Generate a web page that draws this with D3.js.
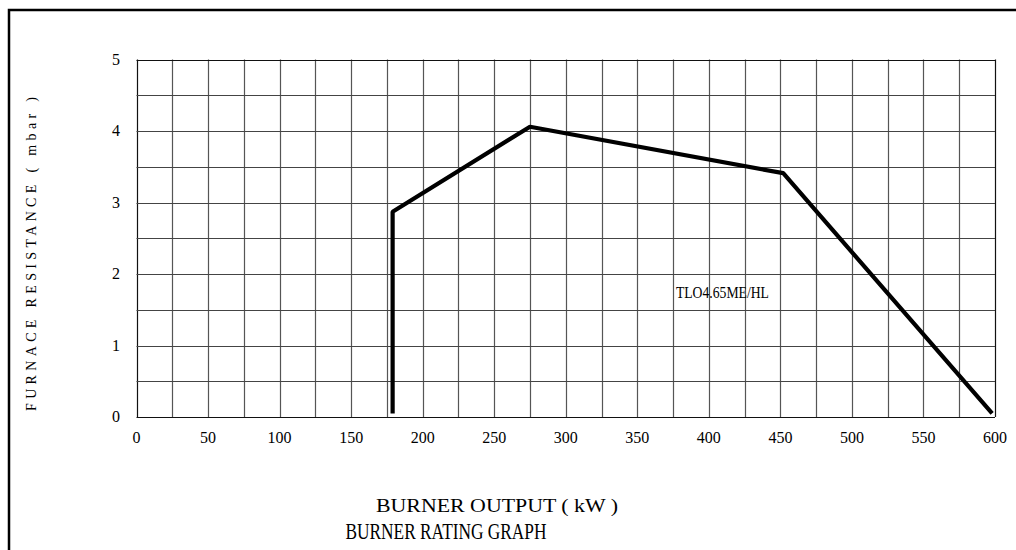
<!DOCTYPE html>
<html>
<head>
<meta charset="utf-8">
<script src="https://cdn.jsdelivr.net/npm/d3@7"></script>
<style>
	body { margin: 0; background: #fff; }
	svg { display: block; font-family: "Liberation Serif", "Times New Roman", serif; }
</style>
</head>
<body>
<div id="chart"></div>
<script>
// burner output (kW) and furnace resistance (mbar) of the rating curve
const outputKW = [179, 179, 275, 452, 598];
const resistance = [0.05, 2.87, 4.06, 3.41, 0.05];

const xTicks = [0, 50, 100, 150, 200, 250, 300, 350, 400, 450, 500, 550, 600];
const yTicks = [0, 1, 2, 3, 4, 5];
const xGrid = d3.range(0, 601, 25);
const yGrid = d3.range(0, 5.01, 0.5);

const modelLabel = 'TLO4.65ME/HL';

const W = 1016, H = 550;
const svg = d3.select('#chart').append('svg')
	.attr('width', W)
	.attr('height', H);

// page frame (top + left edges only)
svg.append('path')
	.attr('d', `M1016,10 L9,10 L9,550`)
	.attr('fill', 'none')
	.attr('stroke', '#000')
	.attr('stroke-width', 2.5);

const x = d3.scaleLinear().domain([0, 600]).range([136.5, 995]);
const y = d3.scaleLinear().domain([0, 5]).range([417, 59.5]);

// grid
svg.append('g').selectAll('line')
	.data(xGrid)
	.enter()
	.append('line')
	.attr('x1', d => Math.round(x(d)) + 0.5)
	.attr('x2', d => Math.round(x(d)) + 0.5)
	.attr('y1', y(0))
	.attr('y2', y(5))
	.attr('stroke', d => (d === 0 || d === 600) ? '#111' : '#555')
	.attr('stroke-width', 1.2);

svg.append('g').selectAll('line')
	.data(yGrid)
	.enter()
	.append('line')
	.attr('x1', x(0))
	.attr('x2', x(600))
	.attr('y1', d => Math.round(y(d)) + 0.5)
	.attr('y2', d => Math.round(y(d)) + 0.5)
	.attr('stroke', d => (d === 0 || d === 5) ? '#111' : '#444')
	.attr('stroke-width', 1.2);

// tick labels
svg.append('g').selectAll('text')
	.data(xTicks)
	.enter()
	.append('text')
	.attr('x', d => x(d))
	.attr('y', 443)
	.attr('text-anchor', 'middle')
	.attr('font-size', 16)
	.text(d => d);

svg.append('g').selectAll('text')
	.data(yTicks)
	.enter()
	.append('text')
	.attr('x', 120)
	.attr('y', d => y(d) + 5)
	.attr('text-anchor', 'end')
	.attr('font-size', 16)
	.text(d => d);

// rating curve
const line = d3.line()
	.x(d => x(d[0]))
	.y(d => y(d[1]));

svg.append('path')
	.datum(d3.zip(outputKW, resistance))
	.attr('d', line)
	.attr('fill', 'none')
	.attr('stroke', '#000')
	.attr('stroke-width', 4.2)
	.attr('stroke-linejoin', 'bevel');

svg.append('text')
	.attr('x', x(377))
	.attr('y', y(1.66))
	.attr('font-size', 16)
	.attr('textLength', 93)
	.attr('lengthAdjust', 'spacingAndGlyphs')
	.text(modelLabel);

// axis titles
svg.append('text')
	.attr('x', 497)
	.attr('y', 512)
	.attr('text-anchor', 'middle')
	.attr('font-size', 19)
	.attr('textLength', 242)
	.attr('lengthAdjust', 'spacingAndGlyphs')
	.text('BURNER OUTPUT ( kW )');

svg.append('text')
	.attr('x', 446)
	.attr('y', 539)
	.attr('text-anchor', 'middle')
	.attr('font-size', 23)
	.attr('textLength', 201)
	.attr('lengthAdjust', 'spacingAndGlyphs')
	.text('BURNER RATING GRAPH');

svg.append('text')
	.attr('transform', 'translate(36,254) rotate(-90)')
	.attr('text-anchor', 'middle')
	.attr('font-size', 14)
	.attr('textLength', 314)
	.attr('lengthAdjust', 'spacing')
	.text('FURNACE RESISTANCE ( mbar )');
</script>
</body>
</html>
